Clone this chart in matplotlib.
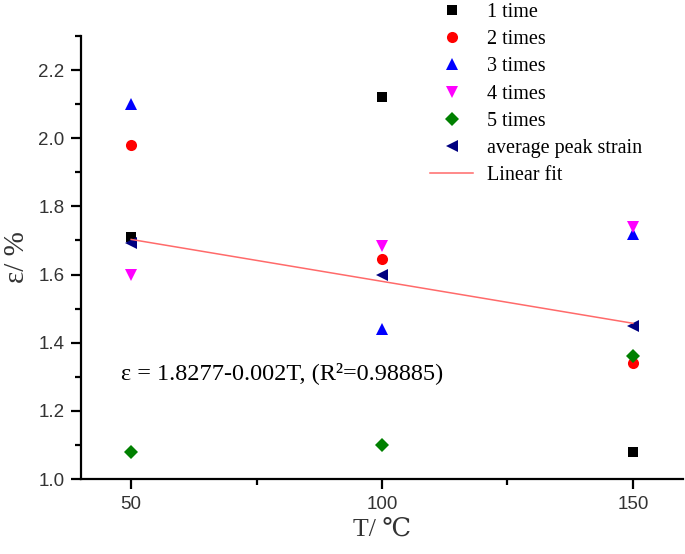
import matplotlib
matplotlib.use('Agg')
import matplotlib.pyplot as plt
import numpy as np
from matplotlib.ticker import MultipleLocator

# 温度与各次峰值应变
T = np.array([50, 100, 150])
time1 = [1.71, 2.12, 1.08]
time2 = [1.98, 1.645, 1.34]
time3 = [2.10, 1.44, 1.72]
time4 = [1.60, 1.685, 1.74]
time5 = [1.08, 1.10, 1.36]
avg_strain = [1.694, 1.598, 1.448]

labels = ["1 time", "2 times", "3 times", "4 times", "5 times", "average peak strain"]
markers = ["s", "o", "^", "v", "D", "<"]
colors = ["black", "red", "blue", "magenta", "green", "navy"]
sizes = [7.5, 8, 9, 9, 7, 9]

serif = ['Liberation Serif', 'DejaVu Serif', 'Noto Sans CJK SC']

fig = plt.figure(figsize=(6.85, 5.54), dpi=100)
ax = fig.add_axes([81 / 685, 1 - 479 / 554, 602 / 685, 443 / 554])

series = [time1, time2, time3, time4, time5, avg_strain]
for ys, lab, m, c, s in zip(series, labels, markers, colors, sizes):
    ax.plot(T, ys, linestyle="none", marker=m, color=c, markersize=s,
            markeredgewidth=0, label=lab)

# 线性拟合平均峰值应变
k, b = np.polyfit(T, avg_strain, 1)
ax.plot(T[[0, -1]], k * T[[0, -1]] + b, color="#ff6a6a", lw=1.1, label="Linear fit")

ax.set_xlim(40, 160)
ax.set_ylim(1.0, 2.3)
ax.xaxis.set_major_locator(MultipleLocator(50))
ax.xaxis.set_minor_locator(MultipleLocator(25))
ax.yaxis.set_minor_locator(MultipleLocator(0.1))
ax.set_yticks([1.0, 1.2, 1.4, 1.6, 1.8, 2.0, 2.2])
ax.yaxis.set_major_formatter(plt.FormatStrFormatter('%.1f'))

for sp in ["top", "right"]:
    ax.spines[sp].set_visible(False)
for sp in ["left", "bottom"]:
    ax.spines[sp].set_linewidth(1.6)

ax.tick_params(which="major", direction="out", length=7, width=1.6,
               labelsize=13.5, labelcolor="#333333", pad=5)
ax.tick_params(which="minor", direction="out", length=4, width=1.6)
for t in ax.get_xticklabels() + ax.get_yticklabels():
    t.set_family(['Liberation Sans', 'DejaVu Sans'])

ax.set_xlabel("T/ ℃", family=serif, fontsize=18.5, color="#333333", labelpad=4)
ax.set_ylabel("ε/ %", family=serif, fontsize=21, color="#333333", labelpad=6)

ax.text(48.0, 1.312, "ε = 1.8277-0.002T, (R²=0.98885)", family=serif,
        fontsize=17.5, va="center", ha="left")

ax.legend(loc="upper left", bbox_to_anchor=(430 / 685, 1 - 3 / 554),
          bbox_transform=fig.transFigure, frameon=False,
          prop={'family': serif, 'size': 14.5}, labelspacing=0.4,
          handlelength=2.15, handletextpad=0.7, borderpad=0, borderaxespad=0)

fig.savefig("out.png", dpi=100)
